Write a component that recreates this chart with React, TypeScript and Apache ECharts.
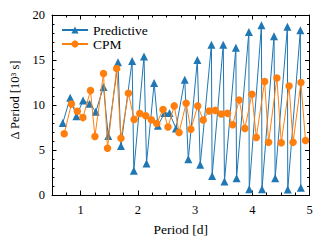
import React, { useEffect, useRef } from "react";
import * as echarts from "echarts";

const predPeriod = [0.688, 0.818, 0.926, 1.043, 1.156, 1.265, 1.40, 1.483, 1.653, 1.705, 1.90, 1.93, 2.108, 2.152, 2.285, 2.35, 2.467, 2.553, 2.666, 2.82, 2.882, 3.04, 3.09, 3.286, 3.298, 3.493, 3.514, 3.713, 3.725, 3.94, 3.947, 4.16, 4.17, 4.38, 4.40, 4.614, 4.62, 4.84, 4.848];
const predDelta = [8.0, 10.8, 8.75, 10.5, 10.15, 9.25, 12.0, 6.55, 14.75, 5.45, 14.9, 2.7, 15.4, 3.5, 12.45, 7.7, 9.1, 9.1, 7.4, 12.8, 3.96, 15.0, 3.35, 16.7, 2.1, 16.7, 1.5, 16.35, 1.85, 18.1, 0.65, 18.85, 0.65, 17.65, 1.85, 18.7, 0.6, 18.3, 0.8];

const cpmPeriod = [0.713, 0.839, 0.943, 1.04, 1.173, 1.25, 1.40, 1.47, 1.63, 1.705, 1.835, 1.935, 2.034, 2.138, 2.236, 2.33, 2.44, 2.527, 2.636, 2.72, 2.844, 2.926, 3.047, 3.142, 3.246, 3.353, 3.457, 3.566, 3.658, 3.77, 3.87, 3.994, 4.07, 4.216, 4.285, 4.43, 4.507, 4.643, 4.713, 4.85, 4.93];
const cpmDelta = [6.8, 10.1, 9.3, 8.6, 11.6, 6.5, 13.5, 5.2, 14.05, 6.3, 11.3, 8.4, 9.05, 8.8, 8.35, 7.95, 9.5, 7.55, 9.9, 6.95, 10.2, 7.3, 9.9, 8.33, 9.33, 9.4, 9.0, 9.07, 7.8, 10.55, 7.4, 11.2, 6.4, 12.6, 5.85, 13.0, 5.8, 12.1, 5.85, 12.5, 6.05];

const xMajorTicks = [1, 2, 3, 4, 5];
const seriesNames = ["Predictive", "CPM"];

const FONT = "Liberation Serif";

export default function App() {
  const ref = useRef<HTMLDivElement>(null);
  useEffect(() => {
    if (!ref.current) return;
    const chart = echarts.init(ref.current, null, { renderer: "svg" });
    const black = "#000";
    const baseX = {
      type: "value",
      min: 0.5,
      max: 5,
      gridIndex: 0,
      splitLine: { show: false },
    };
    const baseY = {
      type: "value",
      min: 0,
      max: 20,
      interval: 5,
      splitLine: { show: false },
      minorSplitLine: { show: false },
    };
    chart.setOption({
      animation: false,
      grid: { left: 49.5, right: 13.5, top: 15, bottom: 48 },
      legend: {
        left: 56,
        top: 18,
        orient: "vertical",
        itemWidth: 26,
        itemHeight: 9,
        itemGap: 0,
        textStyle: { fontFamily: FONT, fontSize: 13.5, color: black, lineHeight: 14 },
        data: seriesNames,
      },
      xAxis: [
        {
          ...baseX,
          position: "bottom",
          interval: 0.25,
          axisLine: { show: true, lineStyle: { color: black, width: 1 } },
          axisTick: { show: true, inside: true, length: 2.5, lineStyle: { color: black } },
          axisLabel: {
            customValues: xMajorTicks,
            color: black,
            fontFamily: FONT,
            fontSize: 12.5,
            margin: 8,
          },
          name: "Period [d]",
          nameLocation: "middle",
          nameGap: 27,
          nameTextStyle: { fontFamily: FONT, fontSize: 13.5, color: black },
        },
        {
          ...baseX,
          position: "bottom",
          axisLine: { show: false },
          axisTick: { show: true, inside: true, length: 4.5, customValues: xMajorTicks, lineStyle: { color: black } },
          axisLabel: { show: false },
        },
        {
          ...baseX,
          position: "top",
          interval: 0.25,
          axisLine: { show: true, lineStyle: { color: black, width: 1 } },
          axisTick: { show: true, inside: true, length: 2.5, lineStyle: { color: black } },
          axisLabel: { show: false },
        },
        {
          ...baseX,
          position: "top",
          axisLine: { show: false },
          axisTick: { show: true, inside: true, length: 4.5, customValues: xMajorTicks, lineStyle: { color: black } },
          axisLabel: { show: false },
        },
      ],
      yAxis: [
        {
          ...baseY,
          position: "left",
          axisLine: { show: true, lineStyle: { color: black, width: 1 } },
          axisTick: { show: true, inside: true, length: 4.5, lineStyle: { color: black } },
          minorTick: { show: true, splitNumber: 5, length: 2.5, lineStyle: { color: black } },
          axisLabel: { color: black, fontFamily: FONT, fontSize: 12.5, margin: 7 },
          name: "Δ Period [10³ s]",
          nameLocation: "middle",
          nameGap: 31,
          nameTextStyle: { fontFamily: FONT, fontSize: 12.5, color: black, padding: [0, 0, 0, 10] },
        },
        {
          ...baseY,
          position: "right",
          axisLine: { show: true, lineStyle: { color: black, width: 1 } },
          axisTick: { show: true, inside: true, length: 4.5, lineStyle: { color: black } },
          minorTick: { show: true, splitNumber: 5, length: 2.5, lineStyle: { color: black } },
          axisLabel: { show: false },
        },
      ],
      series: [
        {
          name: seriesNames[0],
          type: "line",
          xAxisIndex: 0,
          yAxisIndex: 0,
          data: predPeriod.map((p, i) => [p, predDelta[i]]),
          symbol: "triangle",
          symbolSize: 8,
          showAllSymbol: true,
          lineStyle: { color: "#1f77b4", width: 1 },
          itemStyle: { color: "#1f77b4" },
          emphasis: { disabled: true },
          z: 2,
        },
        {
          name: seriesNames[1],
          type: "line",
          xAxisIndex: 0,
          yAxisIndex: 0,
          data: cpmPeriod.map((p, i) => [p, cpmDelta[i]]),
          symbol: "circle",
          symbolSize: 7.5,
          showAllSymbol: true,
          lineStyle: { color: "#ff7f0e", width: 1 },
          itemStyle: { color: "#ff7f0e" },
          emphasis: { disabled: true },
          z: 3,
        },
      ],
    });
    return () => chart.dispose();
  }, []);
  return (
    <div
      ref={ref}
      style={{ position: "fixed", left: 0, top: 0, width: 323, height: 243, background: "#fff" }}
    />
  );
}
